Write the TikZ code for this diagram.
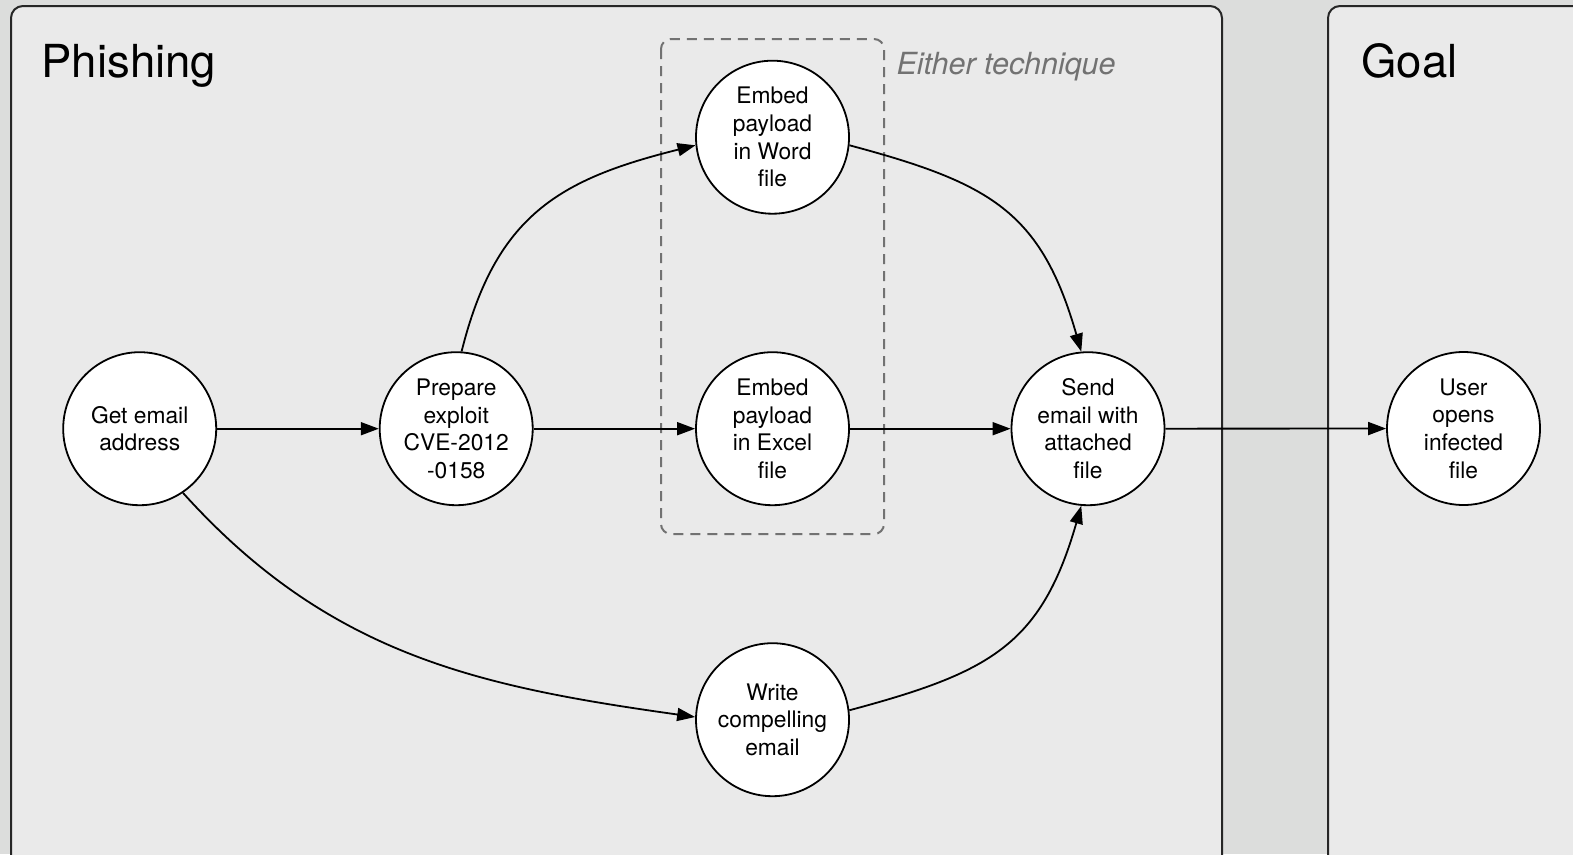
\documentclass[tikz,border=0pt]{standalone}
\usepackage{fontspec}
\setmainfont{TeX Gyre Heros}
\usetikzlibrary{arrows.meta}
\definecolor{pagebg}{HTML}{DCDDDC}
\definecolor{panelbg}{HTML}{EAEAEA}
\definecolor{groupgray}{HTML}{727272}
\begin{document}
\begin{tikzpicture}[x=1pt,y=1pt,
  panel/.style={draw=black!85, line width=2pt, fill=panelbg, rounded corners=12pt},
  paneltitle/.style={anchor=base west, font=\fontsize{45.5}{54}\selectfont},
  stepnode/.style={circle, draw=black, line width=1.8pt, fill=white,
    minimum size=153pt, inner sep=0pt, align=center,
    font=\fontsize{22.8}{27.6}\selectfont},
  flow/.style={line width=1.8pt, -{Triangle[length=18pt,width=13pt]}},
  group/.style={draw=groupgray, line width=2pt, dash pattern=on 10pt off 7pt, rounded corners=10pt},
  ]
\useasboundingbox (0,0) rectangle (1573,-854);
\clip (0,0) rectangle (1573,-854);
\fill[pagebg] (0,0) rectangle (1573,-854);

% swimlane panels
\draw[panel] (11,-6) rectangle (1222,-870);
\draw[panel] (1328,-6) rectangle (1640,-870);
\node[paneltitle] (phtitle) at (38,-77) {Phishing};
\node[paneltitle] (goaltitle) at (1358,-77) {Goal};

% alternative techniques group
\draw[group] (661,-39) rectangle (884,-534);
\node[anchor=base west, text=groupgray, font=\itshape\fontsize{30.5}{36}\selectfont] (either) at (893,-74) {Either technique};

% steps
\node[stepnode] (get)   at (139.7,-428.7) {Get email\\address};
\node[stepnode] (prep)  at (456.2,-428.7) {Prepare\\exploit\\CVE-2012\\-0158};
\node[stepnode] (word)  at (772.5,-137.2) {Embed\\payload\\in Word\\file};
\node[stepnode] (excel) at (772.5,-428.7) {Embed\\payload\\in Excel\\file};
\node[stepnode] (write) at (772.5,-719.7) {Write\\compelling\\email};
\node[stepnode] (send)  at (1088,-428.7) {Send\\email with\\attached\\file};
\node[stepnode] (user)  at (1463.5,-428.5) {User\\opens\\infected\\file};

% connectors
\draw[flow] (get) -- (prep);
\draw[flow] (prep) -- (excel);
\draw[flow] (excel) -- (send);
\draw[flow] (send) -- (user);
\draw[flow] (prep.86) to[out=76,in=194,looseness=1.15] (word.186);
\draw[flow] (word.-6) to[out=-15,in=106,looseness=1.2] (send.95);
\draw[flow] (get.-56) to[out=-48,in=172] (write.178);
\draw[flow] (write.7) to[out=15,in=254,looseness=1.2] (send.265);
\end{tikzpicture}
\end{document}
